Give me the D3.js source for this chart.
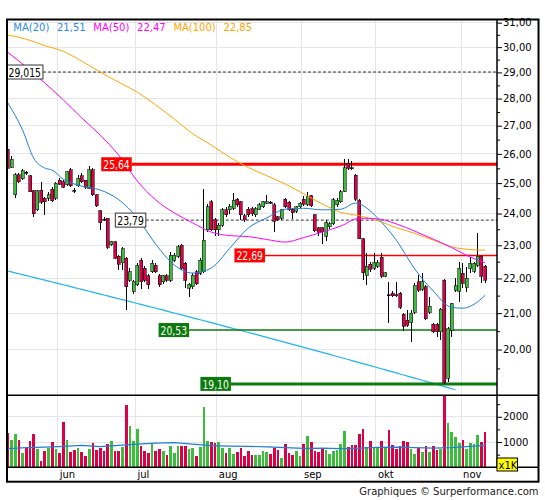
<!DOCTYPE html>
<html>
<head>
<meta charset="utf-8">
<script src="https://cdn.jsdelivr.net/npm/d3@7"></script>
<style>
  body { margin: 0; background: #fff; }
  svg text { font-family: "DejaVu Sans", Verdana, sans-serif; }
</style>
</head>
<body>
<div id="chart"></div>
<script>
// daily candles, mid May -> early Nov (130 sessions)
var opens = [26.16,25.53,24.61,25.29,25.15,25.36,25.25,24.74,24.12,24.77,
  24.50,24.50,24.79,24.50,25.10,25.05,24.94,25.46,24.77,24.91,
  25.24,25.10,24.83,25.46,24.61,24.09,23.82,23.85,23.01,23.11,
  22.67,22.47,22.60,21.95,21.62,21.81,22.55,22.30,22.08,22.20,
  22.40,22.08,21.90,22.08,21.95,22.55,22.67,23.00,22.45,21.71,
  21.76,22.20,22.15,22.20,23.48,24.38,23.80,23.48,23.63,24.12,
  24.12,24.17,24.46,24.38,23.93,24.14,24.15,23.96,24.14,24.22,
  24.33,24.36,24.28,23.89,23.85,24.46,24.36,24.14,24.08,24.22,
  24.46,24.30,24.58,23.96,23.55,23.55,23.28,23.58,23.68,24.28,
  24.38,24.73,25.67,25.52,25.27,24.44,23.21,22.10,22.43,22.30,
  22.36,22.63,22.07,21.52,21.57,21.53,21.57,20.97,20.80,20.73,
  21.03,21.90,21.68,21.76,21.03,20.69,20.69,20.48,21.95,19.25,
  20.53,21.66,21.63,22.15,21.74,22.30,22.22,22.40,22.67,22.37];

var highs = [26.20,25.92,25.33,25.35,25.48,25.42,25.28,24.76,24.77,25.05,
  24.55,24.72,24.88,25.05,25.18,25.10,25.42,25.50,24.85,25.28,
  25.33,25.12,25.57,25.50,24.63,24.12,23.90,23.87,23.13,23.12,
  22.70,22.96,22.65,22.30,21.95,22.45,22.62,22.38,22.12,22.55,
  22.45,22.12,22.10,22.12,22.80,22.75,23.00,23.05,22.50,21.88,
  22.15,22.25,22.60,24.80,24.30,24.45,23.85,23.70,24.18,24.20,
  24.30,24.66,24.52,24.42,23.98,24.20,24.20,24.22,24.35,24.42,
  24.60,24.42,24.35,23.92,24.16,24.50,24.40,24.18,24.26,24.38,
  24.58,24.72,24.62,24.00,23.58,23.58,23.78,23.72,24.50,24.50,
  24.78,25.81,25.83,25.74,25.30,24.46,23.22,22.77,22.50,22.77,
  22.55,22.77,22.20,21.90,21.62,21.90,21.60,21.00,21.09,21.09,
  21.87,22.10,22.15,21.80,21.47,20.73,20.73,21.15,21.98,20.62,
  21.30,22.02,22.50,22.45,22.35,22.65,22.50,23.37,22.70,22.40];

var lows = [25.48,25.50,24.50,25.00,25.10,25.28,24.70,23.89,24.08,24.30,
  23.96,24.42,24.36,24.45,24.92,24.82,24.90,24.86,24.68,24.88,
  25.00,24.80,24.80,24.58,24.20,23.48,23.75,22.90,22.98,22.57,
  22.25,22.25,21.09,21.90,21.55,21.78,21.70,21.90,21.70,22.15,
  22.15,21.75,21.85,21.90,21.90,22.50,22.60,22.25,21.71,21.47,
  21.70,21.80,22.10,22.15,23.40,23.45,23.30,23.30,23.58,23.88,
  24.00,24.12,24.20,23.80,23.72,23.90,23.92,23.90,24.10,24.18,
  24.30,24.30,23.42,23.75,23.80,24.18,24.08,23.82,24.02,24.18,
  24.26,24.26,24.20,23.40,23.30,23.03,23.12,23.52,23.62,24.22,
  24.35,24.70,25.45,25.43,24.42,23.18,21.95,21.81,22.20,22.25,
  22.30,22.00,22.03,20.72,21.45,21.47,21.12,20.49,20.60,20.20,
  20.98,21.60,21.62,20.82,20.98,20.45,20.35,20.26,19.10,19.15,
  20.35,21.59,21.33,21.71,21.59,22.17,22.17,22.35,21.86,21.86];

var closes = [25.50,25.81,25.29,25.05,25.41,25.36,24.72,23.99,24.74,24.36,
  24.39,24.61,24.42,24.99,24.97,24.86,25.38,24.91,24.77,25.16,
  25.05,24.86,25.46,24.61,24.26,23.70,23.82,22.94,23.11,22.60,
  22.43,22.90,21.76,22.20,21.90,22.40,21.90,21.95,21.81,22.45,
  22.20,21.81,22.08,21.95,22.70,22.70,22.95,22.30,21.95,21.83,
  22.10,21.85,22.55,23.16,24.22,23.48,23.48,23.63,24.12,23.96,
  24.23,24.44,24.28,23.96,23.80,23.96,23.99,24.15,24.28,24.38,
  24.38,24.36,23.75,23.80,24.12,24.22,24.12,24.02,24.22,24.33,
  24.30,24.55,24.25,23.45,23.40,23.42,23.72,23.68,24.45,24.44,
  24.72,25.52,25.50,25.50,24.47,23.21,22.17,22.37,22.27,22.47,
  22.47,22.07,22.17,21.52,21.49,21.51,21.16,20.63,20.66,21.00,
  21.78,21.66,21.90,20.85,21.20,20.48,20.48,21.11,19.13,20.57,
  21.27,21.78,22.30,21.86,22.00,22.45,22.45,22.67,22.07,21.95];

// volume in thousands
var volumes = [1350,1100,1300,1070,570,770,1030,1300,710,260,
  640,770,990,710,570,1810,1070,610,680,750,
  610,440,710,960,700,750,650,910,1030,650,
  650,800,2470,1650,1030,1500,840,650,570,940,
  650,710,650,490,830,570,830,830,830,730,
  750,440,800,2370,1030,1000,980,990,770,570,
  780,520,600,750,440,640,480,480,480,640,
  610,520,770,680,350,910,570,490,640,440,
  910,1220,990,640,610,740,680,520,640,680,
  910,1420,800,870,870,1300,1520,800,1030,800,
  800,1030,770,1460,870,710,830,1030,1000,740,
  520,770,610,830,610,830,680,740,2900,1740,
  1390,1200,970,1100,740,970,940,1260,1000,1390];

// moving averages: [session index, value]
var ma20 = [[0,27.84],[4,26.84],[7,25.85],[10,25.51],[12,25.44],[15,25.13],[20,24.90],[25,24.77],
  [30,24.45],[35,23.86],[40,23.03],[45,22.40],[50,22.16],[55,22.31],[60,22.91],[65,23.54],
  [70,23.86],[75,24.14],[80,24.17],[85,24.12],[90,24.14],[94,24.34],[97,24.18],[100,23.85],
  [105,23.16],[110,22.28],[115,21.63],[120,21.16],[123,21.14],[126,21.25],[129,21.51]];
var ma50 = [[0,29.79],[5,29.21],[10,28.59],[15,27.95],[20,27.28],[25,26.66],[30,25.95],[35,25.07],
  [40,24.44],[45,24.02],[50,23.70],[55,23.41],[60,23.30],[65,23.27],[70,23.18],[75,23.10],
  [80,23.24],[85,23.41],[90,23.60],[95,23.85],[100,23.83],[105,23.67],[110,23.44],[115,23.19],
  [120,22.93],[125,22.64],[129,22.47]];
var ma100 = [[0,30.49],[5,30.32],[10,30.06],[15,29.83],[20,29.44],[25,29.01],[30,28.62],[35,28.24],
  [40,27.76],[45,27.24],[50,26.71],[55,26.31],[60,25.88],[65,25.53],[70,25.25],[75,24.97],
  [80,24.64],[85,24.31],[90,24.04],[95,23.93],[100,23.77],[105,23.55],[110,23.37],[115,23.16],
  [120,22.95],[125,22.87],[129,22.85]];
var volMa = [[0,740],[5,780],[10,800],[15,830],[20,870],[25,820],[30,870],[35,920],[40,960],
  [45,980],[50,920],[55,860],[60,840],[65,830],[70,810],[75,780],[80,750],[85,760],[90,740],
  [95,760],[100,790],[105,800],[110,780],[115,760],[120,780],[125,830],[129,870]];

// support trend line (two anchor points)
var trendLine = [[0,22.22],[121,18.95]];

// horizontal levels: value, label, session where the line starts
var levelValues = [29.015, 25.64, 23.79, 22.69, 20.53, 19.10];
var levelLabels = ["29,015", "25,64", "23,79", "22,69", "20,53", "19,10"];
var levelStart  = [9.5, 33.5, 37.3, 69.5, 49, 60.3];
var levelKinds  = ["dash", "red", "dash", "redThin", "greenThin", "green"];

// first session of each month
var monthIdx = [14, 35, 57, 80, 100, 123];
var monthLabels = ["jun", "jul", "aug", "sep", "okt", "nov"];

var priceTicks = [20,21,22,23,24,25,26,27,28,29,30,31];
var priceMinor = [19.5,20.5,21.5,22.5,23.5,24.5,25.5,26.5,27.5,28.5,29.5,30.5];
var volTicks = [1000, 2000];
var volMinor = [500, 1500, 2500];

var n = closes.length;
var bars = d3.range(n).map(function(i) {
  return {i: i, o: opens[i], h: highs[i], l: lows[i], c: closes[i], v: volumes[i]};
});

var upColor = "#3dbd3d", downColor = "#dc0046";
var plotLeft = 7, plotRight = 497, plotTop = 19.5, priceBottom = 395.3, volBottom = 467.3;

var svg = d3.select("#chart").append("svg")
  .attr("width", 545).attr("height", 500);

var xc = d3.scaleLinear().domain([0, n - 1]).range([7.8, 485.1]);
var y = d3.scaleLog().domain([18.81, 31.14]).range([priceBottom, 19.3]);
var yv = d3.scaleLinear().domain([0, 2850]).range([volBottom, priceBottom]);

var comma = d3.formatLocale({decimal: ",", thousands: "", grouping: [3], currency: ["", ""]});
var fmt2 = comma.format(".2f");

var defs = svg.append("defs");
defs.append("clipPath").attr("id", "clipP").append("rect")
  .attr("x", plotLeft).attr("y", plotTop).attr("width", plotRight - plotLeft).attr("height", priceBottom - plotTop);
defs.append("clipPath").attr("id", "clipV").append("rect")
  .attr("x", plotLeft).attr("y", priceBottom).attr("width", plotRight - plotLeft).attr("height", volBottom - priceBottom);

// grid
var grid = svg.append("g").attr("stroke", "#e6e6e6").attr("stroke-width", 1).attr("shape-rendering", "crispEdges");
grid.selectAll(".hp").data(priceTicks).enter().append("line")
  .attr("x1", plotLeft).attr("x2", plotRight)
  .attr("y1", function(d) { return y(d); }).attr("y2", function(d) { return y(d); });
grid.selectAll(".hv").data(volTicks).enter().append("line")
  .attr("x1", plotLeft).attr("x2", plotRight)
  .attr("y1", function(d) { return yv(d); }).attr("y2", function(d) { return yv(d); });
grid.selectAll(".vm").data(monthIdx).enter().append("line")
  .attr("x1", function(d) { return xc(d - 0.5); }).attr("x2", function(d) { return xc(d - 0.5); })
  .attr("y1", plotTop).attr("y2", volBottom);

var pg = svg.append("g").attr("clip-path", "url(#clipP)");

// trend line
var trendPts = d3.range(trendLine[0][0], trendLine[1][0] + 0.5, 1).map(function(t) {
  var f = (t - trendLine[0][0]) / (trendLine[1][0] - trendLine[0][0]);
  return [t, trendLine[0][1] + f * (trendLine[1][1] - trendLine[0][1])];
});
pg.append("path").datum(trendPts)
  .attr("fill", "none").attr("stroke", "#1fb3ef").attr("stroke-width", 1.2)
  .attr("d", d3.line().x(function(d) { return xc(d[0]); }).y(function(d) { return y(d[1]); }));

// level lines
var levelStyle = {
  dash:      {line: "#333", width: 1, dash: "3,2", box: "#fff", text: "#000", border: "#333"},
  red:       {line: "#ff0000", width: 3, dash: null, box: "#ff0000", text: "#fff", border: "none"},
  redThin:   {line: "#ff0000", width: 1.5, dash: null, box: "#ff0000", text: "#fff", border: "none"},
  green:     {line: "#0a7d0a", width: 3, dash: null, box: "#0a7a0a", text: "#fff", border: "none"},
  greenThin: {line: "#0a7d0a", width: 1.5, dash: null, box: "#0a7a0a", text: "#fff", border: "none"}
};
levelValues.forEach(function(v, k) {
  var st = levelStyle[levelKinds[k]];
  pg.append("line")
    .attr("x1", xc(levelStart[k])).attr("x2", plotRight)
    .attr("y1", y(v)).attr("y2", y(v))
    .attr("stroke", st.line).attr("stroke-width", st.width)
    .attr("stroke-dasharray", st.dash);
});

// candles
var cg = pg.append("g").attr("shape-rendering", "crispEdges");
cg.selectAll(".wick").data(bars).enter().append("line")
  .attr("x1", function(d) { return xc(d.i); }).attr("x2", function(d) { return xc(d.i); })
  .attr("y1", function(d) { return y(d.h); }).attr("y2", function(d) { return y(d.l); })
  .attr("stroke", "#000").attr("stroke-width", 1);
cg.selectAll(".body").data(bars).enter().append("rect")
  .attr("x", function(d) { return xc(d.i) - 1.5; })
  .attr("width", 3)
  .attr("y", function(d) { return y(Math.max(d.o, d.c)); })
  .attr("height", function(d) { return Math.max(1, Math.abs(y(d.o) - y(d.c))); })
  .attr("fill", function(d) { return d.c > d.o ? upColor : (d.c < d.o ? downColor : "#000"); })
  .attr("stroke", "#111").attr("stroke-width", 0.6);

// moving averages
var maLine = d3.line().curve(d3.curveMonotoneX)
  .x(function(d) { return xc(d[0]); }).y(function(d) { return y(d[1]); });
var maSeries = [
  {name: "MA(20)", data: ma20, color: "#1f7fdc", text: "#2b8be8"},
  {name: "MA(50)", data: ma50, color: "#ff00ff", text: "#ff00ff"},
  {name: "MA(100)", data: ma100, color: "#ffa500", text: "#ffa500"}
];
maSeries.slice().reverse().forEach(function(s) {
  pg.append("path").datum(s.data)
    .attr("fill", "none").attr("stroke", s.color).attr("stroke-width", 1)
    .attr("d", maLine);
});

// level labels (narrow text, like the original)
levelValues.forEach(function(v, k) {
  var st = levelStyle[levelKinds[k]];
  var str = levelLabels[k];
  var digits = str.replace(/[^0-9]/g, "").length;
  var tw = digits * 5.9 + (str.length - digits) * 2.9;
  var w = tw + 4;
  var x1 = xc(levelStart[k]);
  svg.append("rect").attr("x", x1 - w).attr("y", y(v) - 7).attr("width", w).attr("height", 14)
    .attr("fill", st.box).attr("stroke", st.border).attr("stroke-width", 1);
  svg.append("text").text(str)
    .attr("x", x1 - w + 2).attr("y", y(v)).attr("dy", "0.37em")
    .attr("textLength", tw).attr("lengthAdjust", "spacingAndGlyphs")
    .style("font-size", "12.5px").attr("fill", st.text);
});

// volume
var vg = svg.append("g").attr("clip-path", "url(#clipV)");
vg.selectAll(".vol").data(bars).enter().append("rect")
  .attr("shape-rendering", "crispEdges")
  .attr("x", function(d) { return xc(d.i) - 1.35; })
  .attr("width", 2.7)
  .attr("y", function(d) { return yv(d.v); })
  .attr("height", function(d) { return yv(0) - yv(d.v); })
  .attr("fill", function(d) { return d.c > d.o ? upColor : downColor; });
vg.append("path").datum(volMa)
  .attr("fill", "none").attr("stroke", "#1f7fdc").attr("stroke-width", 1.2)
  .attr("d", d3.line().x(function(d) { return xc(d[0]); }).y(function(d) { return yv(d[1]); }));

// right axes
var pAxis = svg.append("g").attr("transform", "translate(" + plotRight + ",0)")
  .call(d3.axisRight(y).tickValues(priceTicks).tickSize(5).tickPadding(1).tickFormat(fmt2));
var pMinor = svg.append("g").attr("transform", "translate(" + plotRight + ",0)")
  .call(d3.axisRight(y).tickValues(priceMinor).tickSize(3).tickFormat(""));
var vAxis = svg.append("g").attr("transform", "translate(" + plotRight + ",0)")
  .call(d3.axisRight(yv).tickValues(volTicks).tickSize(5).tickPadding(1).tickFormat(d3.format("d")));
var vMinor = svg.append("g").attr("transform", "translate(" + plotRight + ",0)")
  .call(d3.axisRight(yv).tickValues(volMinor).tickSize(3).tickFormat(""));
[pAxis, pMinor, vAxis, vMinor].forEach(function(a) {
  a.select(".domain").remove();
  a.selectAll("line").attr("stroke", "#000");
  a.selectAll("text").style("font-family", "'DejaVu Sans', sans-serif")
    .style("font-size", "10px").attr("fill", "#000");
});

// month labels
svg.selectAll(".month").data(monthIdx).enter().append("text")
  .attr("x", function(d) { return xc(d - 0.5) + 2; })
  .attr("y", 477.5)
  .style("font-size", "10px").attr("fill", "#000")
  .text(function(d, i) { return monthLabels[i]; });

// frames
var fr = svg.append("g").attr("fill", "none").attr("stroke", "#000");
fr.append("rect").attr("x", 7).attr("y", 19.5).attr("width", 531.5).attr("height", 462.2).attr("stroke-width", 2);
fr.append("line").attr("x1", 7).attr("x2", 538.5).attr("y1", priceBottom).attr("y2", priceBottom).attr("stroke-width", 1.5);
fr.append("line").attr("x1", 7).attr("x2", 538.5).attr("y1", volBottom).attr("y2", volBottom).attr("stroke-width", 1.5);
fr.append("line").attr("x1", plotRight).attr("x2", plotRight).attr("y1", 19.5).attr("y2", volBottom).attr("stroke-width", 1.5);

// x1K badge
svg.append("rect").attr("x", 497).attr("y", 458).attr("width", 20.5).attr("height", 13)
  .attr("fill", "#ffff00").attr("stroke", "#000").attr("stroke-width", 1);
svg.append("text").attr("x", 498.5).attr("y", 468.5)
  .style("font-size", "10px").attr("fill", "#000").text("x1K");

// legend
var lx = 13.3;
maSeries.forEach(function(s) {
  var last = s.data[s.data.length - 1][1];
  [s.name, fmt2(last)].forEach(function(str) {
    var t = svg.append("text").attr("x", lx).attr("y", 30.7)
      .style("font-size", "10px").attr("fill", s.text).text(str);
    lx += t.node().getComputedTextLength() + 7.7;
  });
});

// footer
svg.append("text").attr("x", 538.5).attr("y", 494.5)
  .attr("text-anchor", "end").style("font-size", "10px").attr("fill", "#222")
  .text("Graphiques \u00a9 Surperformance.com");
</script>
</body>
</html>
